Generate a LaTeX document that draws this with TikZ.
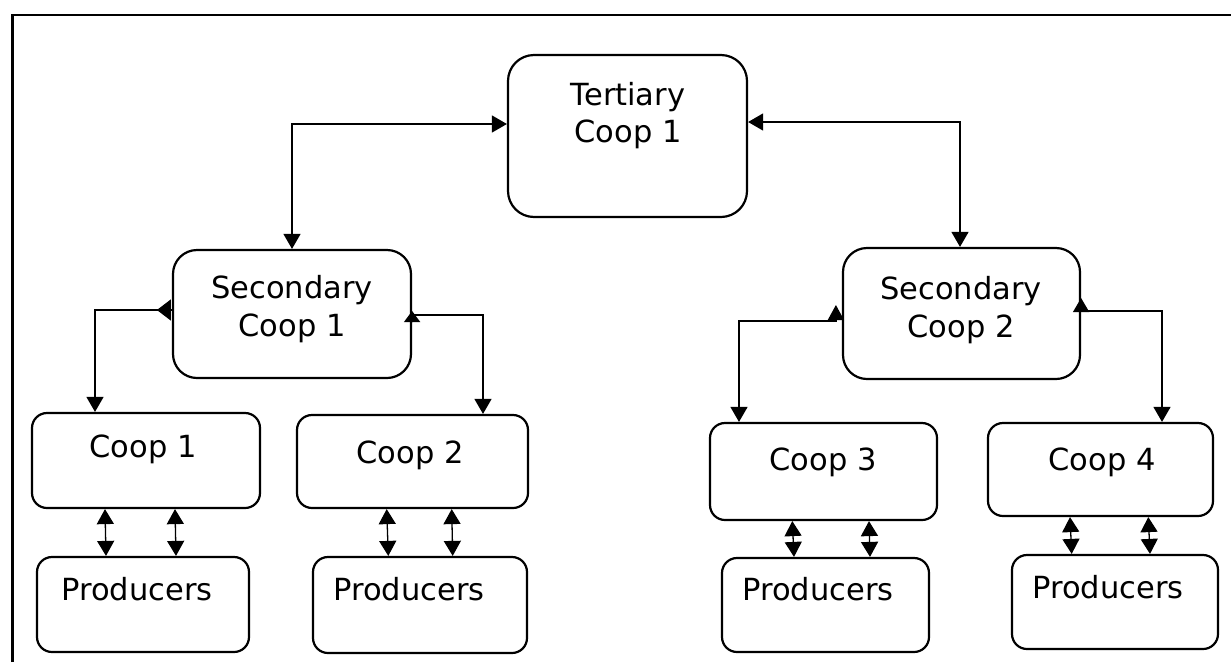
\documentclass[tikz,border=0pt]{standalone}
\usepackage{fontspec}
\setmainfont{DejaVu Sans}
\usetikzlibrary{arrows.meta}
\begin{document}
\begin{tikzpicture}[x=1pt,y=-1pt,
  box/.style={draw, line width=2.2pt, rounded corners=#1, inner sep=0pt},
  lbl/.style={anchor=base, inner sep=0pt, font=\fontsize{30.5}{36}\selectfont},
  conn/.style={line width=1.3pt},
  dbl/.style={conn, {Triangle[width=17pt,length=15pt]}-{Triangle[width=17pt,length=15pt]}},
  frame/.style={line width=2.6pt}]
\fill[white] (0,0) rectangle (1231,662);
\useasboundingbox (0,0) rectangle (1231,662);
% outer frame
\coordinate (fb) at (12.5,662);
\coordinate (fc) at (12.5,15);
\coordinate (fr) at (1231,15);
\draw[frame] (fb) -- (fc) -- (fr);
% boxes
\node[box=26pt, minimum width=239pt, minimum height=162pt] (tert) at (627.5,136) {};
\node[box=24pt, minimum width=238pt, minimum height=128pt] (sec1) at (292,314) {};
\node[box=24pt, minimum width=237pt, minimum height=131pt] (sec2) at (961.5,313.5) {};
\node[box=15pt, minimum width=228pt, minimum height=95pt] (coop1) at (146,460.5) {};
\node[box=15pt, minimum width=231pt, minimum height=93pt] (coop2) at (412.5,461.5) {};
\node[box=15pt, minimum width=227pt, minimum height=97pt] (coop3) at (823.5,471.5) {};
\node[box=15pt, minimum width=225pt, minimum height=93pt] (coop4) at (1100.5,469.5) {};
\node[box=15pt, minimum width=212pt, minimum height=95pt] (prod1) at (143,604.5) {};
\node[box=15pt, minimum width=214pt, minimum height=96pt] (prod2) at (420,605) {};
\node[box=15pt, minimum width=207pt, minimum height=94pt] (prod3) at (825.5,605) {};
\node[box=15pt, minimum width=206pt, minimum height=94pt] (prod4) at (1115,602) {};
% labels
\node[lbl] (t1) at (628,105) {Tertiary};
\node[lbl] (t2) at (628,142) {Coop 1};
\node[lbl] (s1a) at (292,298) {Secondary};
\node[lbl] (s1b) at (292,336) {Coop 1};
\node[lbl] (s2a) at (961,299) {Secondary};
\node[lbl] (s2b) at (961,337) {Coop 2};
\node[lbl] (c1) at (143,457) {Coop 1};
\node[lbl] (c2) at (410,463) {Coop 2};
\node[lbl] (c3) at (823,470) {Coop 3};
\node[lbl] (c4) at (1102,470) {Coop 4};
\node[lbl] (p1) at (137,600) {Producers};
\node[lbl] (p2) at (409,600) {Producers};
\node[lbl] (p3) at (818,600) {Producers};
\node[lbl] (p4) at (1108,598) {Producers};
% tertiary <-> secondary
\draw[conn, {Triangle[width=17pt,length=15pt]}-{Triangle[width=17pt,length=15pt]}]
  (sec1.north) |- ([yshift=12pt]tert.west);
\draw[conn, {Triangle[width=17pt,length=15pt]}-{Triangle[width=17pt,length=15pt]}]
  ([yshift=14pt]tert.east) -| ([xshift=-1.5pt]sec2.north);
% secondary 1 <-> coops
\draw[conn, {Triangle[width=17pt,length=15pt]}-{Triangle[width=21pt,length=14pt]}]
  ([xshift=-51pt]coop1.north) |- ([yshift=4pt]sec1.west) -- ([xshift=-15pt,yshift=4pt]sec1.west);
\draw[conn, {Triangle[width=17pt,length=15pt]}-{Triangle[width=16pt,length=11pt]}]
  ([xshift=70.5pt]coop2.north) |- ([yshift=-1pt]sec1.east) -- ([yshift=-8pt]sec1.east) -- ([yshift=3pt]sec1.east);
% secondary 2 <-> coops
\draw[conn, {Triangle[width=17pt,length=15pt]}-{Triangle[width=16pt,length=15pt]}]
  ([xshift=-84.5pt]coop3.north) |- ([xshift=-6pt,yshift=-7.5pt]sec2.west) -- ([xshift=-6pt,yshift=8.5pt]sec2.west);
\draw[conn, {Triangle[width=17pt,length=15pt]}-{Triangle[width=16pt,length=14pt]}]
  ([xshift=61.5pt]coop4.north) |- ([yshift=2.5pt]sec2.east) -- ([yshift=15.5pt]sec2.east);
% coops <-> producers
\draw[dbl] ([xshift=-41pt]coop1.south) -- ([xshift=-37pt]prod1.north);
\draw[dbl] ([xshift=29pt]coop1.south) -- ([xshift=33pt]prod1.north);
\draw[dbl] ([xshift=-25.8pt]coop2.south) -- ([xshift=-31.7pt]prod2.north);
\draw[dbl] ([xshift=39.2pt]coop2.south) -- ([xshift=32.7pt]prod2.north);
\draw[dbl] ([xshift=-31.2pt]coop3.south) -- ([xshift=-31.5pt]prod3.north);
\draw[dbl] ([xshift=45.5pt]coop3.south) -- ([xshift=44.5pt]prod3.north);
\draw[dbl] ([xshift=-30.5pt]coop4.south) -- ([xshift=-43.3pt]prod4.north);
\draw[dbl] ([xshift=47.8pt]coop4.south) -- ([xshift=35pt]prod4.north);
\end{tikzpicture}
\end{document}
